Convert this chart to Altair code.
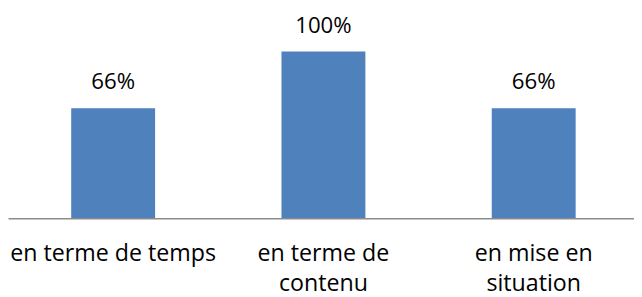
import altair as alt
import pandas as pd

categories = ["en terme de temps", "en terme de\ncontenu", "en mise en\nsituation"]
values = [66, 100, 66]
labels = ["66%", "100%", "66%"]

df = pd.DataFrame({"cat": categories, "value": values, "label": labels})

FONT = "Open Sans"

x = alt.X(
    "cat:N",
    sort=None,
    scale=alt.Scale(paddingInner=0.601, paddingOuter=0.289, align=0.52),
    axis=alt.Axis(labels=False, ticks=False, title=None, domain=True,
                  domainColor="#8c8c8c", domainWidth=1.5, zindex=1, grid=False),
)
y = alt.Y("value:Q", scale=alt.Scale(domain=[0, 125], nice=False), axis=None)

base = alt.Chart(df)

bars = base.mark_bar(color="#4F81BD").encode(x=x, y=y)

vals = base.mark_text(
    baseline="alphabetic", dy=-19, fontSize=22.5, font=FONT, color="black"
).encode(x=x, y=y, text="label:N")

cats = base.mark_text(
    baseline="alphabetic", lineBreak="\n", lineHeight=30, fontSize=23.5,
    font=FONT, color="black"
).encode(x=x, y=alt.value(254.5), text="cat:N")

chart = (
    alt.layer(bars, vals, cats)
    .properties(
        width=634,
        height=211,
        padding={"left": 0, "right": 0, "top": 0, "bottom": 78},
        autosize="none",
    )
    .configure_view(stroke=None)
)

chart.save("out.html", embed_options={"renderer": "svg", "actions": False})
